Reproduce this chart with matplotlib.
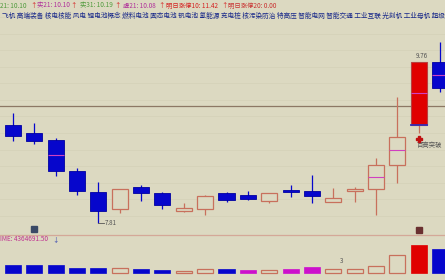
import numpy as np
import matplotlib
matplotlib.use("Agg")
import matplotlib.pyplot as plt
from matplotlib.transforms import blended_transform_factory

plt.rcParams['font.family'] = ['Noto Sans CJK SC', 'DejaVu Sans']

# daily candles
opens  = [9.00, 8.90, 8.82, 8.44, 8.19, 7.98, 8.25, 8.17, 7.96, 7.98, 8.17,
          8.15, 8.08, 8.21, 8.20, 8.06, 8.20, 8.22, 8.51, 9.00, 9.76]
highs  = [9.14, 9.02, 8.84, 8.48, 8.31, 8.22, 8.27, 8.19, 8.05, 8.15, 8.19,
          8.20, 8.17, 8.27, 8.39, 8.23, 8.25, 8.60, 9.34, 9.76, 10.00]
lows   = [8.80, 8.77, 8.38, 8.15, 7.81, 7.93, 8.08, 7.98, 7.94, 7.91, 8.06,
          8.09, 8.05, 8.12, 8.05, 8.06, 8.06, 7.91, 8.29, 8.90, 9.40]
closes = [8.86, 8.80, 8.44, 8.20, 7.96, 8.22, 8.17, 8.03, 7.99, 8.14, 8.09,
          8.10, 8.17, 8.19, 8.14, 8.11, 8.22, 8.51, 8.85, 9.76, 9.44]
avg_price = [np.nan, np.nan, 8.63, np.nan, np.nan, np.nan, np.nan, np.nan, np.nan, np.nan, np.nan,
             np.nan, np.nan, np.nan, np.nan, np.nan, np.nan, 8.37, 8.69, 9.38, 9.60]
limit_up = [False] * 19 + [True, False]
volumes = [1.45e6, 1.45e6, 1.45e6, 0.91e6, 0.91e6, 0.91e6, 0.73e6, 0.55e6, 0.36e6, 0.73e6, 0.73e6,
           0.55e6, 0.55e6, 0.73e6, 1.09e6, 0.73e6, 0.73e6, 1.27e6, 3.27e6, 5.09e6, 4364691.5]
vol_kind = ['b', 'b', 'b', 'b', 'b', 'h', 'b', 'b', 'h', 'h', 'b',
            'm', 'h', 'm', 'm', 'h', 'h', 'h', 'h', 'r', 'b']
ref_line = 9.227

header_labels = ['21: 10.10', '实21: 10.10', '实31: 10.19', '虚21: 10.08', '明日涨停10: 11.42', '明日涨停20: 0.00']
header_colors = ['#4f9a3c', '#b0309a', '#4f9a3c', '#b0309a', '#d42020', '#c83030']
concepts = ['飞机', '高端装备', '核电核能', '风电', '锂电池概念', '燃料电池', '固态电池', '钒电池', '氢能源',
            '充电桩', '核污染防治', '特高压', '智能电网', '智能交通', '工业互联', '光刻机', '工业母机', '超级']

bg = '#dcd9c1'
blue = '#0606cc'
upc = '#c8705c'
W, H = 445, 280

fig = plt.figure(figsize=(W / 100, H / 100), dpi=100, facecolor=bg)
ax = fig.add_axes([0, 47 / H, 1, 233 / H])
axv = fig.add_axes([0, 0, 1, 46 / H])
for a in (ax, axv):
    a.set_facecolor(bg)
    a.set_axis_off()

k = 1.95 / 161
x0 = -13 / 21.35
ax.set_xlim(x0, x0 + W / 21.35)
ax.set_ylim(7.81 - 10 * k, 7.81 + 223 * k)
axv.set_xlim(x0, x0 + W / 21.35)
vpp = volumes[-1] / 24
axv.set_ylim(-7 * vpp, 39 * vpp)

# faint grid
for p in np.arange(7.90, 10.5, 0.2):
    ax.axhline(p, color='#d6d2b9', lw=0.6, zorder=0)
ax.axhline(ref_line, color='#8c7864', lw=0.9, zorder=1)

x = np.arange(len(opens))
bw = 0.75
for i in x:
    o, h, l, c = opens[i], highs[i], lows[i], closes[i]
    up = c >= o
    col = upc if up else blue
    ax.vlines(i, l, h, color=col, lw=0.9, zorder=2)
    bot, ht = min(o, c), max(abs(c - o), 0.012)
    if limit_up[i]:
        ax.bar(i, ht, bw, bot, color='#e00000', edgecolor='#b84040', lw=0.8, zorder=3)
        ax.hlines(o, i - bw / 2 - 0.05, i + bw / 2 + 0.05, color='#2a30c0', lw=1.2, zorder=4)
    elif up:
        ax.bar(i, ht, bw, bot, color=bg, edgecolor=upc, lw=0.9, zorder=3)
    else:
        ax.bar(i, ht, bw, bot, color=blue, edgecolor='#0000a0', lw=0.6, zorder=3)
    if not np.isnan(avg_price[i]):
        ax.hlines(avg_price[i], i - bw / 2, i + bw / 2, color='#d040c0', lw=0.8, zorder=4)

# extremes
lo_i = int(np.argmin(lows))
ax.plot([lo_i, lo_i + 0.28], [lows[lo_i], lows[lo_i]], color='#555555', lw=0.6, zorder=4)
ax.annotate(f'{lows[lo_i]:.2f}', (lo_i + 0.3, lows[lo_i]), fontsize=4.5, color='#555555',
            va='center', ha='left')
hi_i = 19
ax.annotate(f'{highs[hi_i]:.2f}', (hi_i + 0.15, highs[hi_i]), xytext=(0, 1.5), textcoords='offset points',
            fontsize=4.5, color='#555555', va='bottom', ha='center')
ax.plot(hi_i, lows[hi_i] - 0.07, marker='P', color='#c01010', ms=4, zorder=5)
ax.annotate('百高突破', (hi_i - 0.08, lows[hi_i] - 0.15), fontsize=4.6, color='#555555', va='center', ha='left')

# icons
tr = blended_transform_factory(ax.transData, fig.transFigure)
ax.plot(1, 1 - 229 / H, marker='s', ms=5, color='#3a4a66', transform=tr, clip_on=False, zorder=5)
ax.plot(19, 1 - 230 / H, marker='s', ms=5, color='#6a3030', transform=tr, clip_on=False, zorder=5)

# volume
axv.axhline(39 * vpp - 0.5 * vpp, color='#d4a898', lw=0.9)
for i in x:
    kind = vol_kind[i]
    if kind == 'h':
        axv.bar(i, volumes[i], bw, color=bg, edgecolor=upc, lw=0.9)
    else:
        fc = {'b': blue, 'm': '#cc10cc', 'r': '#e00000'}[kind]
        axv.bar(i, volumes[i], bw, color=fc, edgecolor=fc, lw=0.5)
axv.annotate('3', (15.4, volumes[15]), xytext=(0, 3), textcoords='offset points',
             fontsize=4.5, color='#555555', ha='center', va='bottom')

fig.text(0 / W, 1 - 239 / H, f'IME: {volumes[-1]:.2f}', fontsize=4.6, color='#c03090', va='center', ha='left')
fig.text(52 / W, 1 - 239 / H, '↓', fontsize=4.6, color='#3040b0', va='center', ha='left')

# header lines
hx = [0, 37, 80, 123, 166, 228]
ax_pos = [30, 70, 114, 158, 221, None]
for lab, col, xp, axp in zip(header_labels, header_colors, hx, ax_pos):
    fig.text(xp / W, 1 - 5.5 / H, lab, fontsize=4.6, color=col, va='center', ha='left')
    if axp is not None:
        fig.text(axp / W, 1 - 5.5 / H, '↑', fontsize=4.6, color='#d42020', va='center', ha='left')
fig.text(2 / W, 1 - 15.5 / H, ' '.join(concepts), fontsize=4.8, color='#1a2a8a', va='center', ha='left')

fig.savefig('out.png', dpi=100, facecolor=bg)
